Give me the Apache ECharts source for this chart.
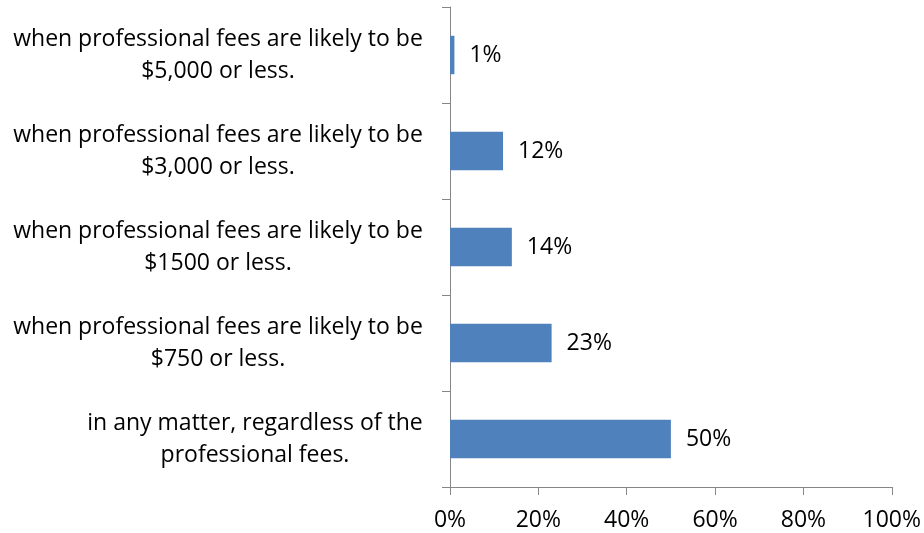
<!DOCTYPE html>
<html>
<head>
<meta charset="utf-8">
<script src="https://cdn.jsdelivr.net/npm/echarts@6/dist/echarts.min.js"></script>
<style>
  html, body { margin: 0; padding: 0; background: #fff; }
  #chart { width: 924px; height: 533px; }
</style>
</head>
<body>
<div id="chart"></div>
<script>
// Categories listed bottom to top, each split into its two display lines
const categories = [
  ['in any matter, regardless of the', 'professional fees.'],
  ['when professional fees are likely to be', '$750 or less.'],
  ['when professional fees are likely to be', '$1500 or less.'],
  ['when professional fees are likely to be', '$3,000 or less.'],
  ['when professional fees are likely to be', '$5,000 or less.']
];
const shares = [50, 23, 14, 12, 1];
const xTicks = { min: 0, max: 100, interval: 20 };

const FONT = '"Open Sans", "Liberation Sans", sans-serif';
const FONT_SIZE = 23;

// Measure each label so its lines can be centred within a right-aligned block
const ctx = document.createElement('canvas').getContext('2d');
ctx.font = FONT_SIZE + 'px ' + FONT;
const rich = {};
categories.forEach((lines, i) => {
  const w = Math.ceil(Math.max(...lines.map(l => ctx.measureText(l).width)));
  rich['c' + i] = { width: w, align: 'center', fontSize: FONT_SIZE, fontFamily: FONT, color: '#000', lineHeight: 32 };
});
const labelKeys = categories.map(l => l.join('\n'));

const chart = echarts.init(document.getElementById('chart'), null, { renderer: 'canvas' });
chart.setOption({
  animation: false,
  textStyle: { fontFamily: FONT },
  grid: { left: 450, right: 31, top: 7, bottom: 46, containLabel: false },
  xAxis: {
    type: 'value',
    min: xTicks.min, max: xTicks.max, interval: xTicks.interval,
    splitLine: { show: false },
    axisLine: { show: true, lineStyle: { color: '#868686', width: 1 } },
    axisTick: { show: true, length: 8, lineStyle: { color: '#868686' } },
    axisLabel: { formatter: '{value}%', fontSize: FONT_SIZE, color: '#000', margin: 22, fontFamily: FONT }
  },
  yAxis: {
    type: 'category',
    data: labelKeys,
    axisLine: { show: true, lineStyle: { color: '#868686', width: 1 } },
    axisTick: { show: true, length: 8, lineStyle: { color: '#868686' } },
    axisLabel: {
      margin: 27,
      align: 'right',
      formatter: (val, idx) => categories[idx].map(l => '{c' + idx + '|' + l + '}').join('\n'),
      rich: rich
    }
  },
  series: [{
    type: 'bar',
    data: shares,
    barWidth: '40%',
    itemStyle: { color: '#4F81BD' },
    label: {
      show: true, position: 'right', distance: 15,
      formatter: '{c}%', fontSize: FONT_SIZE, color: '#000', fontFamily: FONT
    }
  }]
});
</script>
</body>
</html>
